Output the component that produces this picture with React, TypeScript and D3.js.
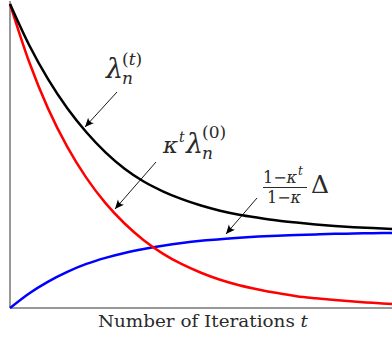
import * as d3 from 'd3'

// iterations t (horizontal) and the three curves
const iterations = [0, 1, 2, 3, 4, 5, 6, 7, 8, 9, 10, 11, 12, 13, 14, 15, 16, 17, 18, 19, 20]
const lambdaT = [1.0, 0.865, 0.752, 0.657, 0.578, 0.512, 0.458, 0.416, 0.384, 0.358, 0.337, 0.32, 0.307, 0.297, 0.288, 0.281, 0.275, 0.27, 0.266, 0.263, 0.26]
const kappaLambda0 = [1.0, 0.81, 0.655, 0.53, 0.428, 0.345, 0.278, 0.223, 0.179, 0.144, 0.116, 0.093, 0.075, 0.061, 0.049, 0.039, 0.032, 0.026, 0.021, 0.017, 0.013]
const deltaTerm = [0, 0.048, 0.087, 0.119, 0.145, 0.165, 0.181, 0.194, 0.205, 0.214, 0.221, 0.226, 0.231, 0.235, 0.238, 0.24, 0.242, 0.244, 0.245, 0.246, 0.247]

const W = 392
const H = 339
const SERIF = 'DejaVu Serif, Liberation Serif, serif'
const INK = '#2a2a2a'

export default function App() {
  const x = d3.scaleLinear().domain([0, 20]).range([10, 392])
  const y = d3.scaleLinear().domain([0, 1]).range([308, 4])

  const line = (vals: number[]) =>
    d3.line<number>()
      .x((_, i) => x(iterations[i]))
      .y(d => y(d))
      .curve(d3.curveMonotoneX)(vals) || ''

  // annotation arrows: [tailX, tailY, headX, headY]
  const arrows = [
    [117, 92, 85, 127],
    [156, 162, 115, 209],
    [257, 198, 226, 234],
  ]

  return (
    <div style={{ position: 'absolute', left: 0, top: 0 }}>
      <svg width={W} height={H} style={{ display: 'block', background: '#fff' }}>
        <defs>
          <marker id="head" viewBox="-10 -5 12 10" refX="0" refY="0" markerWidth="12" markerHeight="10" markerUnits="userSpaceOnUse" orient="auto">
            <path d="M0,0 L-9,-4 Q-6,0 -9,4 Z" fill="#000" />
          </marker>
        </defs>

        {/* axes */}
        <line x1={x(0)} x2={x(0)} y1={y(1) - 3} y2={y(0)} stroke="#333" strokeWidth={1} />
        <line x1={x(0)} x2={x(20)} y1={y(0)} y2={y(0)} stroke="#333" strokeWidth={1} />

        {/* curves */}
        <path d={line(deltaTerm)} fill="none" stroke="#0000ff" strokeWidth={2.5} />
        <path d={line(kappaLambda0)} fill="none" stroke="#ff0000" strokeWidth={2.5} />
        <path d={line(lambdaT)} fill="none" stroke="#000" strokeWidth={2.5} />

        {arrows.map(([x1, y1, x2, y2], i) => (
          <line key={i} x1={x1} y1={y1} x2={x2} y2={y2} stroke="#000" strokeWidth={0.9} markerEnd="url(#head)" />
        ))}

        <g fontFamily={SERIF} fill={INK}>
          {/* lambda_n^(t) */}
          <text x={106} y={78} fontSize={27} fontStyle="italic">λ</text>
          <text x={122} y={84} fontSize={17} fontStyle="italic">n</text>
          <text x={122} y={65} fontSize={17}>(<tspan fontStyle="italic">t</tspan>)</text>

          {/* kappa^t lambda_n^(0) */}
          <text x={163} y={153} fontSize={23} fontStyle="italic">κ</text>
          <text x={179} y={142} fontSize={14} fontStyle="italic">t</text>
          <text x={186} y={153} fontSize={27} fontStyle="italic">λ</text>
          <text x={202} y={159} fontSize={17} fontStyle="italic">n</text>
          <text x={202} y={138} fontSize={17}>(0)</text>

          {/* (1 - kappa^t)/(1 - kappa) Delta */}
          <text x={263} y={183} fontSize={16}>1−<tspan fontStyle="italic">κ</tspan></text>
          <text x={298} y={175} fontSize={12} fontStyle="italic">t</text>
          <line x1={263} x2={307} y1={187.5} y2={187.5} stroke={INK} strokeWidth={1} />
          <text x={267} y={203} fontSize={16}>1−<tspan fontStyle="italic">κ</tspan></text>
          <text x={311} y={193} fontSize={25}>Δ</text>

          {/* axis title */}
          <text x={98} y={327} fontSize={16} textLength={210} lengthAdjust="spacingAndGlyphs">
            Number of Iterations <tspan fontStyle="italic">t</tspan>
          </text>
        </g>
      </svg>
    </div>
  )
}
